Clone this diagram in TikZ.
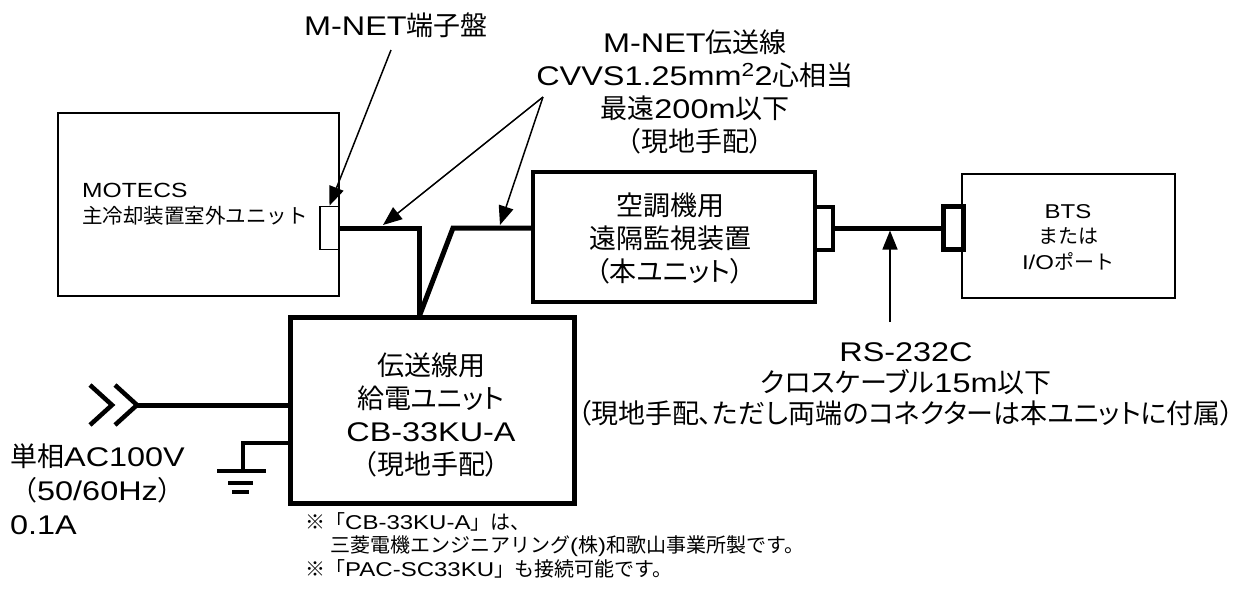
\documentclass[tikz,border=0pt]{standalone}
\usepackage{fontspec}
\setmainfont{Noto Sans CJK JP}[RawFeature=+palt]
\newfontfamily\jpfix{Noto Sans CJK JP}
\newfontfamily\latfont{Liberation Sans}[FakeStretch=1.2]
\newcommand\LT[1]{{\latfont #1}}
\usetikzlibrary{arrows.meta}
\begin{document}
\begin{tikzpicture}[x=1pt,y=-1pt,
  thinbox/.style={draw, line width=1.8pt, inner sep=0pt},
  thickbox/.style={draw, line width=4.5pt, inner sep=0pt, fill=white},
  wire/.style={line width=5pt},
  callout/.style={line width=1.5pt, -{Triangle[length=19pt,width=15pt]}},
  big/.style={font=\fontsize{27}{33}\selectfont, align=center, inner sep=0pt},
  small/.style={font=\jpfix\fontsize{20.5}{26}\selectfont, inner sep=0pt},
  note/.style={font=\jpfix\fontsize{20}{23}\selectfont, inner sep=0pt, anchor=west},
]
\useasboundingbox (0,0) rectangle (1248,590);

% boxes
\node[thinbox, minimum width=281pt, minimum height=183pt] (motecs) at (198.5,204.5) {};
\node[thinbox, fill=white, minimum width=19pt, minimum height=43pt] (term) at (329.5,228) {};
\node[thinbox, minimum width=213pt, minimum height=124pt] (bts) at (1068.5,236) {};

% wires
\coordinate (j1) at (419,228);
\coordinate (j2) at (419,317);
\coordinate (j3) at (453,228);
\draw[wire] (term.east) -- (j1) -- (j2);
\draw[wire] (j2) -- (j3) -- (j3 -| 533,0);

\node[thickbox, minimum width=282pt, minimum height=130pt] (remote) at (674,237) {};
\node[thickbox, line width=4pt, minimum width=18pt, minimum height=43pt] (rcon) at (824,228) {};
\node[thickbox, line width=5pt, minimum width=20pt, minimum height=43pt] (bcon) at (953,228) {};
\draw[wire] (rcon.east) -- (bcon.west);

\coordinate (ac) at (137,405);
\coordinate (g0) at (0,443);
\coordinate (g1) at (243,443);
\coordinate (g2) at (243,471);
\draw[wire] (ac) -- (ac -| 290,0);
\draw[line width=4.5pt] (g0 -| 290,0) -- (g1) -- (g2);
\draw[line width=4.5pt] (217,471) -- (266,471);
\draw[line width=4.5pt] (228,483) -- (253,483);
\draw[line width=4.5pt] (232,492) -- (249,492);
\draw[line width=4.5pt] (90,385) -- (112,405) -- (90,425);
\draw[line width=4.5pt] (115,385) -- (ac) -- (115,425);

\node[thickbox, line width=5pt, minimum width=284pt, minimum height=186pt] (pwr) at (432,410) {};

% texts
\node[big] (lblTerm) at (396,25) {\LT{M-NET}端子盤};
\node[big] (lblLine) at (695,92) {\LT{M-NET}伝送線\\\LT{CVVS1.25mm\textsuperscript{2}2}心相当\\最遠\LT{200m}以下\\（現地手配）};
\node[big] (txtRemote) at (670,238) {空調機用\\遠隔監視装置\\（本ユニット）};
\node[big] (txtPwr) at (431,415) {伝送線用\\給電ユニット\\\LT{CB-33KU-A}\\（現地手配）};
\node[big, font=\fontsize{27}{31}\selectfont] (lblRS) at (906,384) {\LT{RS-232C}\\クロスケーブル\LT{15m}以下\\（現地手配、ただし両端のコネクターは本ユニットに付属）};
\node[big, align=left, anchor=west, font=\jpfix\fontsize{27}{34}\selectfont] (lblAC) at (10,489) {単相\LT{AC100V}\\（\LT{50/60Hz}）\\\LT{0.1A}};
\node[small, align=left, anchor=west] (txtMotecs) at (82,204) {\LT{MOTECS}\\主冷却装置室外ユニット};
\node[small, align=center, font=\jpfix\fontsize{20}{25.5}\selectfont] (txtBts) at (1068,237) {\LT{BTS}\\または\\\LT{I/O}ポート};
\node[note] (n1) at (305,522) {※「\LT{CB-33KU-A}」は、};
\node[note] (n2) at (330,546) {三菱電機エンジニアリング\LT{(}株\LT{)}和歌山事業所製です。};
\node[note] (n3) at (305,569) {※「\LT{PAC-SC33KU}」も接続可能です。};

% callouts
\coordinate (cTerm) at (391,50);
\draw[callout] (cTerm) -- (term.north);
\coordinate (cLine) at (543,97);
\coordinate (w1) at (383,225);
\coordinate (w2) at (500,225);
\draw[callout] (cLine) -- (w1);
\draw[callout] (cLine) -- (w2);
\coordinate (rsFoot) at (890,322);
\coordinate (rsTip) at (890,230.5);
\draw[callout] (rsFoot) -- (rsTip);
\end{tikzpicture}
\end{document}
